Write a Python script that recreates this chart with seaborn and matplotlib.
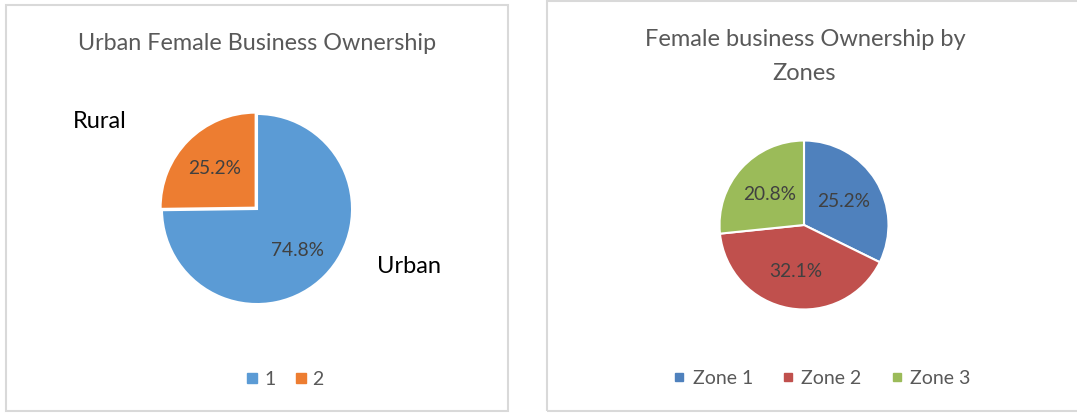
import matplotlib
matplotlib.use("Agg")
import matplotlib.pyplot as plt
from matplotlib.patches import Rectangle
from matplotlib.lines import Line2D
import seaborn as sns

sns.set_theme(style="white")
plt.rcParams['font.family'] = ['Lato', 'DejaVu Sans']

# left chart: urban vs rural
area_names = ["Urban", "Rural"]
area_legend = ["1", "2"]
area_share = [74.8, 25.2]
area_colors = ["#5B9BD5", "#ED7D31"]

# right chart: zones
zone_names = ["Zone 1", "Zone 2", "Zone 3"]
zone_share = [25.2, 32.1, 20.8]
zone_colors = ["#4F81BD", "#C0504D", "#9BBB59"]

W, H = 1077, 414
fig = plt.figure(figsize=(W / 100, H / 100), dpi=100)
fig.patch.set_facecolor("white")

def fx(x):
    return x / W

def fy(y):
    return 1 - y / H

def pie_axes(cx, cy, r, lim=1.2):
    side = 2 * lim * r
    ax = fig.add_axes([fx(cx - side / 2), fy(cy + side / 2), side / W, side / H])
    ax.set_xlim(-lim, lim)
    ax.set_ylim(-lim, lim)
    ax.set_aspect("equal")
    ax.axis("off")
    return ax

# panel borders
for x0, y0, x1, y1 in [(6, 6, 508, 412), (547, 2, 1080, 412)]:
    fig.patches.append(Rectangle((fx(x0), fy(y1)), (x1 - x0) / W, (y1 - y0) / H,
                                 transform=fig.transFigure, fill=False,
                                 edgecolor="#D9D9D9", linewidth=1.5))

gray = "#595959"
lab = "#404040"

# ---- left pie
ax1 = pie_axes(257, 210, 99)
wedges, texts, autotexts = ax1.pie(area_share, colors=area_colors, startangle=90,
                                   counterclock=False, explode=[0, 0.02],
                                   autopct="%.1f%%", pctdistance=0.6,
                                   wedgeprops=dict(edgecolor="white", linewidth=1.5),
                                   textprops=dict(color=lab, fontsize=13.8))
for t, v in zip(autotexts, area_share):
    t.set_text(f"{v:.1f}%")
fig.text(fx(257), fy(43), "Urban Female Business Ownership", ha="center", va="center",
         fontsize=16.8, color=gray)
fig.text(fx(73), fy(122), area_names[1], ha="left", va="center", fontsize=17, color="black")
fig.text(fx(377), fy(267), area_names[0], ha="left", va="center", fontsize=17, color="black")
h1 = [Line2D([], [], marker="s", linestyle="", markersize=7, color=c) for c in area_colors]
fig.legend(h1, area_legend, loc="center", bbox_to_anchor=(fx(283), fy(380)), ncol=2,
           frameon=False, fontsize=14, labelcolor=gray, handletextpad=0.1,
           columnspacing=0.8, handlelength=1)

# ---- right pie
ax2 = pie_axes(804, 226, 88)
wedges, texts, autotexts = ax2.pie(zone_share, colors=zone_colors, startangle=90,
                                   counterclock=False, autopct="%.1f%%", pctdistance=0.55,
                                   wedgeprops=dict(edgecolor="white", linewidth=1.5),
                                   textprops=dict(color=lab, fontsize=13.8))
for t, v in zip(autotexts, zone_share):
    t.set_text(f"{v:.1f}%")
fig.text(fx(805), fy(40), "Female business Ownership by", ha="center", va="center",
         fontsize=17, color=gray)
fig.text(fx(804), fy(73), "Zones", ha="center", va="center", fontsize=17, color=gray)
h2 = [Line2D([], [], marker="s", linestyle="", markersize=6, color=c) for c in zone_colors]
fig.legend(h2, zone_names, loc="center", bbox_to_anchor=(fx(820), fy(379)), ncol=3,
           frameon=False, fontsize=14, labelcolor=gray, handletextpad=0.2,
           columnspacing=1.3, handlelength=1)

fig.savefig("out.png", dpi=100, facecolor="white")
